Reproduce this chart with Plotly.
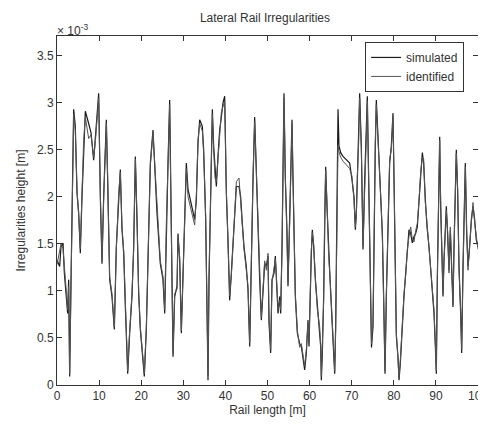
import plotly.graph_objects as go

# Rail length [m]
rail_length = [
    0, 0.63, 0.95, 1.43, 1.74, 2.22, 2.53, 2.77, 3.01, 3.33, 3.56, 3.96, 4.35, 4.75, 5.15, 5.54, 5.94,
    6.33, 6.73, 7.52, 8.08, 8.71, 9.1, 9.5, 9.9, 10.29, 10.69, 11.08, 11.72, 12.03, 12.51, 13.06,
    13.62, 14.09, 14.65, 15.04, 15.44, 15.84, 16.23, 16.79, 17.26, 17.81, 18.21, 18.61, 19.0, 19.4,
    19.79, 20.19, 20.74, 21.22, 21.77, 22.17, 22.8, 23.36, 23.75, 24.54,
    25.18, 25.58, 25.97, 26.37, 26.76, 26.92, 27.16, 27.56, 27.95, 28.51, 28.74, 29.14, 29.53, 29.93,
    30.33, 30.72, 31.12, 31.91, 32.7, 33.1, 33.49, 33.89, 34.52, 34.84, 35.31, 35.71, 35.87, 36.11,
    36.5, 36.9, 37.21, 37.53, 37.85, 38.24, 38.64, 39.04, 39.43, 39.83, 40.22, 40.62, 41.01, 41.41,
    41.81, 42.2, 42.6, 43.23, 43.63, 44.02, 44.42, 44.97, 45.37, 45.77, 46.16, 46.56, 46.95, 47.35,
    47.75, 48.14, 48.54, 48.93, 49.33, 49.73,
    50.12, 50.36, 50.75, 51.07, 51.55, 51.86, 52.1, 52.5, 52.89, 53.13, 53.45, 53.68, 53.92, 54.24,
    54.63, 54.87, 55.27, 55.5, 55.82, 56.06, 56.3, 56.61, 57.09, 57.64, 58.04, 58.43, 58.83, 59.23,
    59.62, 59.86, 60.18, 60.41, 60.65, 60.97, 61.36, 61.84, 62.39, 62.63, 62.79, 63.03, 63.34, 63.58,
    63.82, 64.13, 64.53, 64.93, 65.32, 65.72, 65.96, 66.19, 66.51, 66.75, 66.98, 67.38, 67.93, 68.73,
    69.52, 70.07, 70.55, 70.87, 71.1, 71.34, 71.66, 71.89, 72.29, 72.69, 73.08, 73.48, 73.71, 74.03,
    74.43, 74.7,
    75.06, 75.3, 75.61, 75.85, 76.25, 76.64, 77.04, 77.28, 77.59, 77.91, 78.23, 78.62, 79.02, 79.41,
    79.81, 80.05, 80.36, 80.6, 81.0, 81.24, 81.55, 82.03, 82.42, 82.82, 83.22, 83.61, 84.01, 84.4,
    84.8, 85.19, 85.59, 85.99, 86.38, 86.78, 87.09, 87.49, 87.89, 88.36, 88.76, 89.15, 89.55, 89.87,
    90.1, 90.34, 90.66, 90.9, 91.13, 91.45, 91.69, 91.92, 92.24, 92.48, 92.8, 93.11, 93.43, 93.75,
    94.06, 94.3, 94.62, 94.85, 95.17, 95.49, 95.88, 96.12, 96.44, 96.75, 96.99, 97.31, 97.63, 98.02,
    98.42, 98.81, 99.21, 99.6, 100,
]

# Irregularities height [x 1e-3 m]
simulated = [
    1.33, 1.26, 1.47, 1.51, 1.19, 0.97, 0.76, 1.12, 0.09, 1.12, 1.76, 2.93, 2.75, 2.04, 1.83, 1.40, 2.0,
    2.54, 2.91, 2.78, 2.68, 2.39, 2.61, 2.78, 3.10, 2.0, 1.29, 2.0, 2.82, 2.18, 1.12, 0.94,
    0.59, 1.47, 2.0, 2.29, 1.65, 1.40, 0.83, 0.12, 0.55, 0.94, 1.47, 2.43, 1.76, 0.97,
    0.59, 0.41, 0.09, 0.59, 1.47, 2.36, 2.71, 2.18, 1.83, 1.29,
    1.12, 0.76, 1.76, 2.36, 3.03, 2.36, 1.54, 0.30, 0.94, 1.05, 1.61, 1.33, 0.55, 1.26,
    1.83, 2.36, 2.08, 1.93, 1.76, 1.97, 2.57, 2.82, 2.75, 2.50, 1.76, 0.55, 0.05, 1.12,
    2.18, 2.93, 2.54, 2.25, 2.11, 2.43, 2.71, 2.85, 3.0, 3.07, 2.04, 1.54, 0.90, 1.19,
    1.47, 1.72, 2.11, 2.11, 2.0, 1.72, 1.47, 1.26, 1.01, 0.41, 1.47, 2.18, 2.85, 2.18,
    1.65, 1.12, 0.69, 1.05, 1.29, 1.26,
    1.37, 0.66, 0.34, 1.12, 1.19, 1.37, 1.15, 0.76, 0.94, 0.76, 1.47, 2.32, 3.10, 2.18,
    1.65, 1.05, 1.76, 2.32, 2.82, 2.18, 1.54, 0.94, 0.55, 0.44, 0.41, 0.30, 0.16, 0.34,
    0.69, 0.41, 1.12, 1.40, 1.65, 1.47, 1.12, 0.83, 0.59, 0.41, 0.05, 0.34, 0.94, 1.83,
    2.32, 1.90, 1.40, 1.05, 0.69, 0.34, 0.12, 0.62, 1.90, 2.93, 2.54, 2.47, 2.43, 2.39,
    2.36, 2.18, 2.0, 1.65, 1.83, 2.18, 2.61, 3.10, 2.54, 1.44, 2.18, 2.68, 3.07, 2.18,
    1.26, 0.40,
    0.62, 1.65, 2.54, 3.03, 2.61, 2.25, 1.83, 1.61, 0.94, 0.12, 0.94, 1.76, 2.36, 2.54,
    2.89, 2.18, 1.33, 0.52, 0.30, 0.05, 0.23, 0.69, 0.94, 1.19, 1.40, 1.65, 1.61, 1.51,
    1.58, 1.61, 1.68, 2.0, 2.22, 2.47, 2.36, 1.97, 1.68, 1.47, 1.26, 1.05, 0.76, 0.41,
    0.12, 1.12, 2.18, 2.64, 1.90, 1.26, 0.94, 1.33, 1.65, 1.90, 1.58, 1.22, 1.65, 1.12,
    0.83, 1.47, 1.97, 2.50, 2.04, 1.26, 0.76, 0.34, 1.26, 1.90, 2.36, 1.61, 1.26, 1.47,
    1.76, 1.90, 1.76, 1.54, 1.47,
]

identified = [
    1.28, 1.42, 1.50, 1.45, 1.22, 0.99, 0.80, 1.05, 0.12, 1.15, 1.80, 2.88, 2.70, 2.08, 1.80, 1.45, 2.05,
    2.60, 2.85, 2.62, 2.66, 2.42, 2.58, 2.80, 3.05, 2.05, 1.32, 1.96, 2.78, 2.22, 1.15, 0.97,
    0.62, 1.44, 2.04, 2.26, 1.68, 1.43, 0.86, 0.15, 0.58, 0.97, 1.44, 2.40, 1.80, 1.00,
    0.62, 0.44, 0.12, 0.62, 1.50, 2.33, 2.68, 2.22, 1.86, 1.32,
    1.15, 0.80, 1.72, 2.40, 2.98, 2.40, 1.50, 0.34, 0.97, 1.02, 1.58, 1.36, 0.58, 1.22,
    1.86, 2.30, 2.00, 1.85, 1.70, 2.02, 2.60, 2.78, 2.70, 2.46, 1.80, 0.60, 0.10, 1.15,
    2.22, 2.88, 2.50, 2.20, 2.16, 2.40, 2.75, 2.90, 2.96, 3.02, 2.08, 1.50, 0.95, 1.16,
    1.50, 1.76, 2.16, 2.20, 1.95, 1.76, 1.44, 1.22, 1.05, 0.45, 1.44, 2.22, 2.80, 2.22,
    1.62, 1.15, 0.72, 1.02, 1.32, 1.22,
    1.40, 0.70, 0.38, 1.09, 1.22, 1.34, 1.18, 0.80, 0.90, 0.80, 1.44, 2.36, 3.05, 2.22,
    1.62, 1.09, 1.72, 2.36, 2.78, 2.22, 1.50, 0.97, 0.58, 0.40, 0.44, 0.34, 0.20, 0.38,
    0.66, 0.45, 1.09, 1.44, 1.62, 1.50, 1.15, 0.80, 0.62, 0.44, 0.09, 0.38, 0.90, 1.86,
    2.28, 1.94, 1.36, 1.08, 0.72, 0.38, 0.15, 0.58, 1.86, 2.55, 2.48, 2.42, 2.38, 2.34,
    2.30, 2.22, 1.96, 1.68, 1.80, 2.22, 2.58, 3.05, 2.50, 1.48, 2.22, 2.64, 3.02, 2.22,
    1.30, 0.44,
    0.66, 1.62, 2.58, 2.98, 2.64, 2.22, 1.86, 1.58, 0.97, 0.15, 0.97, 1.72, 2.40, 2.50,
    2.85, 2.22, 1.30, 0.56, 0.26, 0.08, 0.26, 0.66, 0.97, 1.16, 1.44, 1.58, 1.68, 1.55,
    1.52, 1.64, 1.72, 1.96, 2.26, 2.42, 2.40, 1.94, 1.72, 1.44, 1.30, 1.02, 0.80, 0.45,
    0.15, 1.15, 2.14, 2.60, 1.94, 1.22, 0.97, 1.30, 1.68, 1.86, 1.62, 1.19, 1.68, 1.15,
    0.86, 1.44, 2.00, 2.46, 2.08, 1.22, 0.80, 0.38, 1.22, 1.94, 2.32, 1.64, 1.22, 1.50,
    1.72, 1.94, 1.72, 1.58, 1.44,
]

y_ticks = [0, 0.5, 1, 1.5, 2, 2.5, 3, 3.5]
y_tick_labels = ["0", "0.5", "1", "1.5", "2", "2.5", "3", "3.5"]
x_ticks = [0, 10, 20, 30, 40, 50, 60, 70, 80, 90, 100]

FONT = "Liberation Sans, Arial, sans-serif"

fig = go.Figure()
fig.add_trace(go.Scatter(x=rail_length, y=simulated, mode="lines", name="simulated",
                         line=dict(color="#1a1a1a", width=1.2)))
fig.add_trace(go.Scatter(x=rail_length, y=identified, mode="lines", name="identified",
                         line=dict(color="#555555", width=1)))

axis_common = dict(showline=True, linecolor="#333333", linewidth=1, mirror="allticks",
                   ticks="inside", ticklen=5, tickcolor="#333333", showgrid=False,
                   zeroline=False, automargin=False, ticklabeloverflow="allow",
                   tickfont=dict(family=FONT, size=12, color="#333333"))

# The page places the figure 8px from the window's top-left corner (default body margin),
# so the figure is sized to fill the rest of the 486x424 window.
fig.update_layout(
    width=478, height=416,
    margin=dict(l=49, r=8, t=28, b=39),
    paper_bgcolor="white", plot_bgcolor="white",
    font=dict(family=FONT, size=12, color="#333333"),
    title=dict(text="Lateral Rail Irregularities", xref="paper", x=0.494, xanchor="center",
               yref="container", y=0.976, yanchor="middle", automargin=False,
               font=dict(family=FONT, size=12, color="#333333")),
    xaxis=dict(range=[0, 100], tickvals=x_ticks,
               title=dict(text="Rail length [m]", standoff=1, font=dict(family=FONT, size=12)),
               **axis_common),
    yaxis=dict(range=[0, 3.71], tickvals=y_ticks, ticktext=y_tick_labels,
               title=dict(text="Irregularities height [m]", standoff=8, font=dict(family=FONT, size=12)),
               **axis_common),
    legend=dict(x=0.967, y=0.983, xanchor="right", yanchor="top", bgcolor="white",
                bordercolor="#333333", borderwidth=1,
                font=dict(family=FONT, size=12, color="#333333"), tracegroupgap=0),
    showlegend=True,
    annotations=[dict(text="× 10<sup>-3</sup>", x=0, y=1, xref="paper", yref="paper",
                      xanchor="left", yanchor="bottom", xshift=-2, yshift=-4, showarrow=False,
                      font=dict(family=FONT, size=12, color="#333333"))],
)

fig.write_html("out.html")
